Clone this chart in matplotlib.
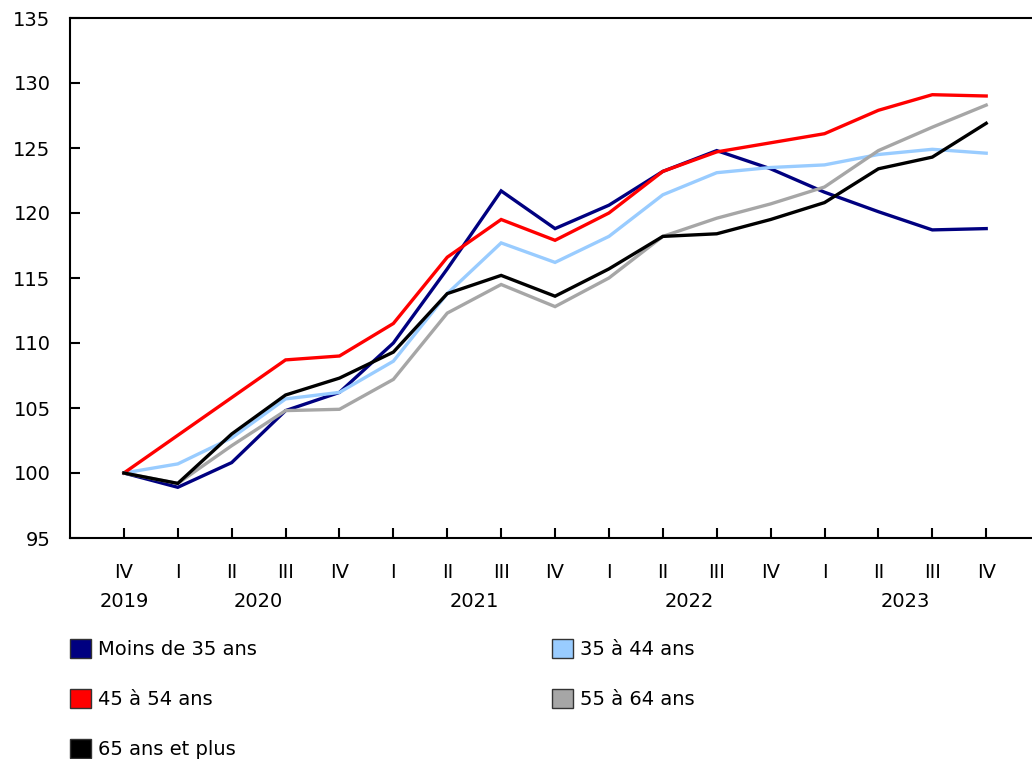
import matplotlib
matplotlib.use("Agg")
import matplotlib.pyplot as plt
from matplotlib.patches import Patch

plt.rcParams['font.family'] = ['DejaVu Sans']

quarters = ["IV", "I", "II", "III", "IV", "I", "II", "III", "IV",
            "I", "II", "III", "IV", "I", "II", "III", "IV"]
years = ["2019", "2020", "2021", "2022", "2023"]
year_pos = [0, 2.5, 6.5, 10.5, 14.5]

moins35 = [100, 98.9, 100.8, 104.8, 106.2, 110.0, 115.7, 121.7, 118.8,
           120.6, 123.2, 124.8, 123.4, 121.6, 120.1, 118.7, 118.8]
a35_44 = [100, 100.7, 102.7, 105.7, 106.2, 108.6, 113.8, 117.7, 116.2,
          118.2, 121.4, 123.1, 123.5, 123.7, 124.5, 124.9, 124.6]
a45_54 = [100, 102.9, 105.8, 108.7, 109.0, 111.5, 116.6, 119.5, 117.9,
          120.0, 123.2, 124.7, 125.4, 126.1, 127.9, 129.1, 129.0]
a55_64 = [100, 99.2, 102.1, 104.8, 104.9, 107.2, 112.3, 114.5, 112.8,
          115.0, 118.2, 119.6, 120.7, 122.0, 124.8, 126.6, 128.3]
a65p = [100, 99.2, 103.0, 106.0, 107.3, 109.3, 113.8, 115.2, 113.6,
        115.7, 118.2, 118.4, 119.5, 120.8, 123.4, 124.3, 126.9]

labels = ["Moins de 35 ans", "35 à 44 ans", "45 à 54 ans", "55 à 64 ans", "65 ans et plus"]
series = [moins35, a35_44, a45_54, a55_64, a65p]
colors = ["#000080", "#99CCFF", "#FF0000", "#A6A6A6", "#000000"]

fig = plt.figure(figsize=(10.32, 7.59), dpi=100)
ax = fig.add_axes([70/1032, 1-538/759, (1032-70)/1032, (538-18)/759])

x = list(range(len(quarters)))
for i in [1, 3, 0, 2, 4]:
    ax.plot(x, series[i], color=colors[i], lw=2.4, solid_joinstyle='miter', zorder=2+i)

ax.set_xlim(-1, 16.85)
ax.set_ylim(95, 135)
ax.set_yticks(range(95, 136, 5))
ax.set_xticks(x)
ax.set_xticklabels(quarters)
ax.spines['right'].set_visible(False)
for s in ['left', 'bottom', 'top']:
    ax.spines[s].set_linewidth(1.5)
ax.tick_params(axis='y', direction='in', length=7, width=1.5, pad=14, labelsize=14)
ax.tick_params(axis='x', direction='in', length=7, width=1.5, pad=18, labelsize=14)

for yp, yl in zip(year_pos, years):
    ax.text(yp, -0.122, yl, transform=ax.get_xaxis_transform(),
            ha='center', va='center', fontsize=14)

handles = [Patch(facecolor=c, edgecolor='#333333', linewidth=1.0) for c in colors]
order = [0, 2, 4, 1, 3]
fig.legend([handles[i] for i in order], [labels[i] for i in order],
           loc='upper left', bbox_to_anchor=(70/1032, 1-639/759), ncol=2,
           frameon=False, fontsize=14, handlelength=1.1, handleheight=1.1,
           handletextpad=0.35, labelspacing=1.55, columnspacing=15.15,
           borderpad=0, borderaxespad=0)

fig.savefig("out.png", dpi=100)
